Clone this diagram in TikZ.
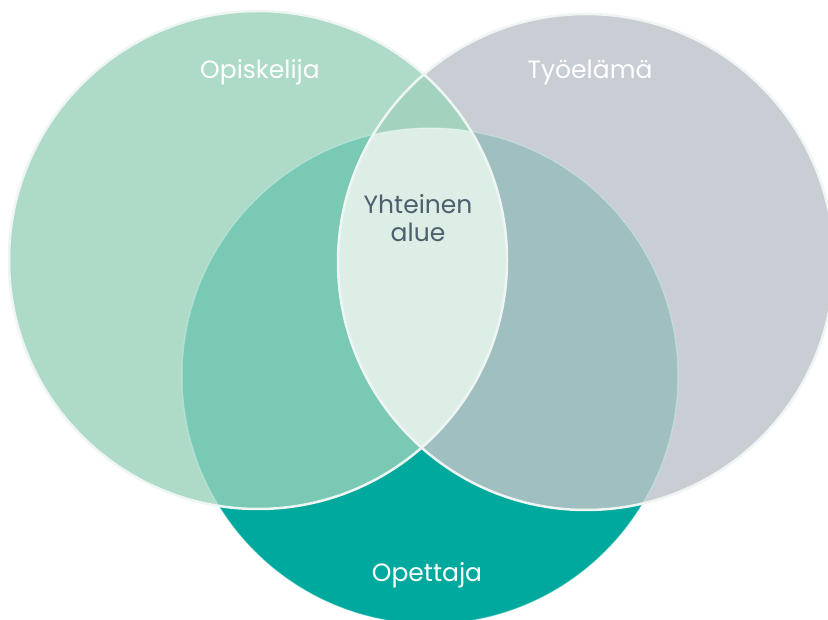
\documentclass[tikz,border=0pt]{standalone}
\usepackage{fontspec}
\setmainfont{Poppins}
\usetikzlibrary{positioning}

\definecolor{opiskFill}{HTML}{AEDBC8}
\definecolor{tyoFill}{HTML}{C9CED5}
\definecolor{opetFill}{HTML}{00A99D}
\definecolor{opiskOpet}{HTML}{79C9B5}
\definecolor{tyoOpet}{HTML}{A0BFC0}
\definecolor{opiskTyo}{HTML}{A3D3BF}
\definecolor{coreFill}{HTML}{DDEEE6}
\definecolor{ringLine}{HTML}{EEF5F3}
\definecolor{coreText}{HTML}{4E5F6E}

% the three sets
\newcommand{\setOpisk}{(258,359) circle[radius=249]}
\newcommand{\setTyo}{(586,357) circle[radius=248]}
\newcommand{\setOpet}{(430,243) circle[radius=248]}

\begin{document}
\begin{tikzpicture}[x=1pt, y=1pt,
    ring/.style={draw=ringLine, line width=2.5pt},
    faintring/.style={draw=white, draw opacity=0.45, line width=1pt},
    setlabel/.style={text=white, font=\fontsize{25}{28}\selectfont},
    corelabel/.style={text=coreText, align=center, font=\fontsize{25}{28}\selectfont}
]
    \useasboundingbox (0,0) rectangle (828,619);
    \clip (0,0) rectangle (828,619);

    % Single sets
    \fill[opiskFill] \setOpisk;
    \fill[tyoFill] \setTyo;
    \fill[opetFill] \setOpet;

    % Pairwise overlaps
    \begin{scope}
        \clip \setOpisk;
        \fill[opiskOpet] \setOpet;
        \fill[opiskTyo] \setTyo;
    \end{scope}
    \begin{scope}
        \clip \setTyo;
        \fill[tyoOpet] \setOpet;
    \end{scope}

    % Common area
    \begin{scope}
        \clip \setOpisk;
        \clip \setTyo;
        \fill[coreFill] \setOpet;
    \end{scope}

    % Outlines
    \draw[faintring] \setOpet;
    \draw[ring] \setOpisk;
    \draw[ring] \setTyo;

    % Labels
    \node[setlabel] (opiskelija) at (260,547) {Opiskelija};
    \node[setlabel] (tyoelama) at (590,547) {Työelämä};
    \node[setlabel] (opettaja) at (427,44) {Opettaja};
    \node[corelabel] (yhteinen) at (418,401) {Yhteinen\\alue};

\end{tikzpicture}
\end{document}
